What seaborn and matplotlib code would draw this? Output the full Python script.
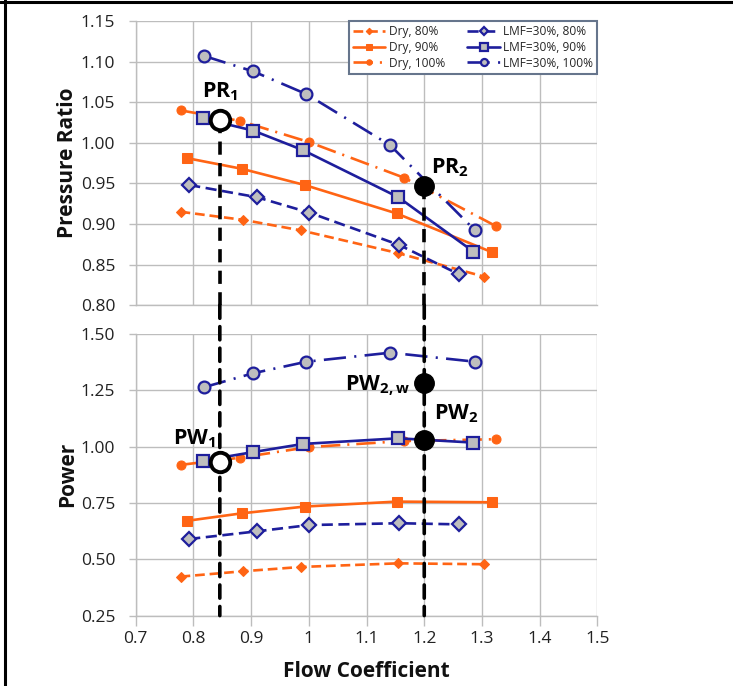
import matplotlib
matplotlib.use("Agg")
import matplotlib.pyplot as plt
from matplotlib.patches import ConnectionPatch
from matplotlib.lines import Line2D
import seaborn as sns
import pandas as pd

# ---- data -------------------------------------------------------------
dry80_flow = [0.778, 0.887, 0.987, 1.155, 1.304]
dry80_pr = [0.915, 0.905, 0.892, 0.864, 0.835]
dry80_pw = [0.423, 0.447, 0.466, 0.482, 0.478]

dry90_flow = [0.790, 0.884, 0.993, 1.152, 1.318]
dry90_pr = [0.981, 0.968, 0.948, 0.913, 0.865]
dry90_pw = [0.671, 0.704, 0.734, 0.756, 0.753]

dry100_flow = [0.778, 0.881, 1.000, 1.165, 1.325]
dry100_pr = [1.040, 1.027, 1.001, 0.957, 0.897]
dry100_pw = [0.919, 0.951, 0.998, 1.025, 1.033]

lmf80_flow = [0.793, 0.910, 1.001, 1.157, 1.260]
lmf80_pr = [0.948, 0.933, 0.914, 0.874, 0.838]
lmf80_pw = [0.590, 0.624, 0.652, 0.660, 0.655]

lmf90_flow = [0.817, 0.904, 0.990, 1.155, 1.285]
lmf90_pr = [1.030, 1.015, 0.991, 0.933, 0.866]
lmf90_pw = [0.938, 0.976, 1.012, 1.037, 1.018]

lmf100_flow = [0.819, 0.904, 0.996, 1.141, 1.288]
lmf100_pr = [1.107, 1.088, 1.060, 0.997, 0.892]
lmf100_pw = [1.264, 1.326, 1.377, 1.417, 1.377]

series_names = ["Dry, 80%", "Dry, 90%", "Dry, 100%",
                "LMF=30%, 80%", "LMF=30%, 90%", "LMF=30%, 100%"]

# operating points: (flow, value)
pr_1 = (0.846, 1.028)
pr_2 = (1.200, 0.947)
pw_1 = (0.846, 0.931)
pw_2 = (1.200, 1.030)
pw_2w = (1.200, 1.282)

x_ticks = [0.7, 0.8, 0.9, 1.0, 1.1, 1.2, 1.3, 1.4, 1.5]
x_ticklabels = ["0.7", "0.8", "0.9", "1", "1.1", "1.2", "1.3", "1.4", "1.5"]
pr_ticks = [0.80, 0.85, 0.90, 0.95, 1.00, 1.05, 1.10, 1.15]
pw_ticks = [0.25, 0.50, 0.75, 1.00, 1.25, 1.50]

# ---- style ------------------------------------------------------------
sns.set_theme(style="white")
plt.rcParams["font.family"] = ["Open Sans", "DejaVu Sans"]
plt.rcParams["mathtext.fontset"] = "custom"
plt.rcParams["mathtext.rm"] = "Open Sans"
plt.rcParams["mathtext.bf"] = "Open Sans:bold"
plt.rcParams["lines.scale_dashes"] = False

ORANGE = "#FF6414"
BLUE = "#1E1E9C"
GRAY_FILL = "#BEBEBE"
GRID = "#BDBDBD"

styles = {
    "Dry, 80%": dict(color=ORANGE, linestyle=(0, (7, 3.5)), marker="D",
                     markersize=5.5, markerfacecolor=ORANGE, markeredgecolor=ORANGE),
    "Dry, 90%": dict(color=ORANGE, linestyle="-", marker="s",
                     markersize=6.5, markerfacecolor=ORANGE, markeredgecolor=ORANGE),
    "Dry, 100%": dict(color=ORANGE, linestyle=(0, (14, 5, 1.5, 5)), marker="o",
                      markersize=6.5, markerfacecolor=ORANGE, markeredgecolor=ORANGE),
    "LMF=30%, 80%": dict(color=BLUE, linestyle=(0, (8, 4)), marker="D",
                         markersize=7.5, markerfacecolor=GRAY_FILL,
                         markeredgecolor=BLUE, markeredgewidth=1.6),
    "LMF=30%, 90%": dict(color=BLUE, linestyle="-", marker="s",
                         markersize=8.5, markerfacecolor=GRAY_FILL,
                         markeredgecolor=BLUE, markeredgewidth=1.6),
    "LMF=30%, 100%": dict(color=BLUE, linestyle=(0, (16, 6, 1.5, 6)), marker="o",
                          markersize=8.5, markerfacecolor=GRAY_FILL,
                          markeredgecolor=BLUE, markeredgewidth=1.6),
}

flows = [dry80_flow, dry90_flow, dry100_flow, lmf80_flow, lmf90_flow, lmf100_flow]
prs = [dry80_pr, dry90_pr, dry100_pr, lmf80_pr, lmf90_pr, lmf100_pr]
pws = [dry80_pw, dry90_pw, dry100_pw, lmf80_pw, lmf90_pw, lmf100_pw]

rows = []
for name, f, pr, pw in zip(series_names, flows, prs, pws):
    for fi, pri, pwi in zip(f, pr, pw):
        rows.append({"series": name, "flow": fi, "pr": pri, "pw": pwi})
df = pd.DataFrame(rows)

W, H = 733, 686
fig = plt.figure(figsize=(W / 100, H / 100), dpi=100)
ax1 = fig.add_axes([135.5 / W, 1 - 305.1 / H, 462 / W, 284 / H])
ax2 = fig.add_axes([135.5 / W, 1 - 615.6 / H, 462 / W, 281.6 / H])

for ax, col in ((ax1, "pr"), (ax2, "pw")):
    for name in series_names:
        sub = df[df["series"] == name]
        sns.lineplot(data=sub, x="flow", y=col, ax=ax, sort=False,
                     linewidth=1.9, zorder=3, label=name, **styles[name])

# ---- axes formatting ----------------------------------------------------
for ax in (ax1, ax2):
    ax.set_xlim(0.7, 1.5)
    ax.set_xticks(x_ticks)
    ax.grid(True, color=GRID, linewidth=1.0)
    ax.set_axisbelow(True)
    for s in ("top", "right"):
        ax.spines[s].set_visible(False)
    for s in ("left", "bottom"):
        ax.spines[s].set_color(GRID)
        ax.spines[s].set_linewidth(1.0)
    ax.tick_params(axis="y", direction="out", length=5, width=1.0, color=GRID,
                   left=True, labelsize=12.5, pad=9.5, labelcolor="#222222")
    ax.set_xlabel("")
    ax.set_ylabel("")

ax1.set_ylim(0.80, 1.15)
ax1.set_yticks(pr_ticks)
ax1.set_yticklabels([f"{t:.2f}" for t in pr_ticks])
ax1.tick_params(axis="x", bottom=False, labelbottom=False)

ax2.set_ylim(0.25, 1.50)
ax2.set_yticks(pw_ticks)
ax2.set_yticklabels([f"{t:.2f}" for t in pw_ticks])
ax2.set_xticklabels(x_ticklabels)
ax2.tick_params(axis="x", direction="out", length=7, width=1.0, color=GRID,
                bottom=True, labelsize=12.5, pad=4, labelcolor="#222222")

label_font = dict(fontsize=15, fontweight="bold", color="#111111")
ax1.set_ylabel("Pressure Ratio", **label_font)
ax2.set_ylabel("Power", **label_font)
ax2.set_xlabel("Flow Coefficient", labelpad=10, **label_font)
ax1.yaxis.set_label_coords(-0.125, 0.5)
ax2.yaxis.set_label_coords(-0.125, 0.5)

# ---- legend -------------------------------------------------------------
ax2.get_legend().remove()
handles, labels = ax1.get_legend_handles_labels()
ax1.get_legend().remove()
leg = ax1.legend(handles, labels, ncol=2, loc="upper right",
                 bbox_to_anchor=(1.0, 1.0), borderaxespad=0.0, fontsize=8.6,
                 frameon=True, fancybox=False, framealpha=1.0,
                 edgecolor="#66758C", handlelength=2.7, handletextpad=0.3,
                 columnspacing=1.9, labelspacing=0.22, borderpad=0.35,
                 markerscale=0.6)
leg.get_frame().set_linewidth(1.5)
leg.set_zorder(10)

# ---- operating point guides ---------------------------------------------
guide = dict(color="black", linewidth=2.6, linestyle=(0, (9.5, 6)))
for pt in (pr_1, pr_2):
    ax1.plot([pt[0], pt[0]], [pt[1], 0.80], zorder=4, **guide)
    con = ConnectionPatch(xyA=(pt[0], 0.80), coordsA=ax1.transData,
                          xyB=(pt[0], 0.25), coordsB=ax2.transData,
                          zorder=4, **guide)
    ax2.add_artist(con)

open_pt = dict(marker="o", markersize=14, markerfacecolor="white",
               markeredgecolor="black", markeredgewidth=2.8, zorder=6,
               linestyle="none")
solid_pt = dict(marker="o", markersize=14, markerfacecolor="black",
                markeredgecolor="black", zorder=6, linestyle="none")
ax1.plot([pr_1[0]], [pr_1[1]], **open_pt)
ax1.plot([pr_2[0]], [pr_2[1]], **solid_pt)
ax2.plot([pw_1[0]], [pw_1[1]], **open_pt)
ax2.plot([pw_2[0]], [pw_2[1]], **solid_pt)
ax2.plot([pw_2w[0]], [pw_2w[1]], **solid_pt)

ann = dict(textcoords="offset points", fontsize=15.5, color="black", zorder=7)
ax1.annotate(r"$\mathbf{PR_1}$", xy=pr_1, xytext=(0, 12), ha="center", va="bottom", **ann)
ax1.annotate(r"$\mathbf{PR_2}$", xy=pr_2, xytext=(5, 5), ha="left", va="bottom", **ann)
ax2.annotate(r"$\mathbf{PW_1}$", xy=pw_1, xytext=(-3, 9), ha="right", va="bottom", **ann)
ax2.annotate(r"$\mathbf{PW_{2,w}}$", xy=pw_2w, xytext=(-10, -2), ha="right", va="center", **ann)
ax2.annotate(r"$\mathbf{PW_2}$", xy=pw_2, xytext=(7, 11), ha="left", va="bottom", **ann)

# ---- outer frame (top and left edges) -----------------------------------
fig.add_artist(Line2D([0, 1], [1 - 1.5 / H, 1 - 1.5 / H], transform=fig.transFigure,
                      color="black", linewidth=2.2))
fig.add_artist(Line2D([4.5 / W, 4.5 / W], [0, 1], transform=fig.transFigure,
                      color="black", linewidth=2.2))

fig.savefig("out.png", dpi=100, facecolor="white")
